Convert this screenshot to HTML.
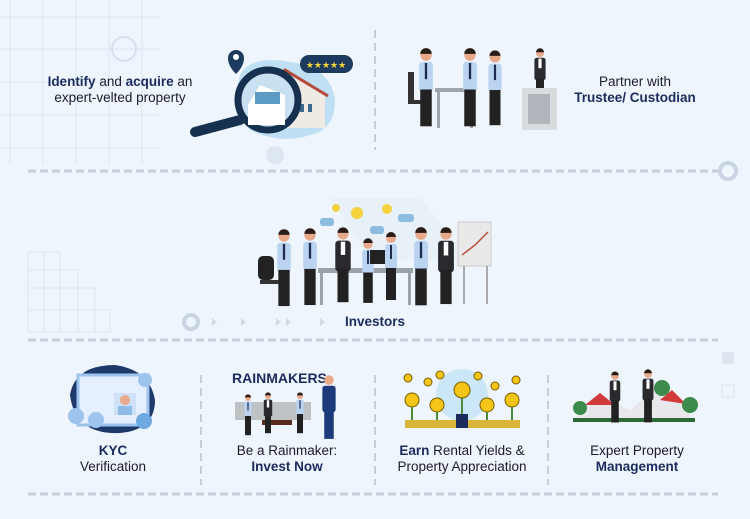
<!DOCTYPE html>
<html><head><meta charset="utf-8"><style>
body{margin:0;width:750px;height:519px;background:#eef5fc;overflow:hidden;position:relative;font-family:"Liberation Sans",sans-serif;color:#1b1b2a}
.t{position:absolute;text-align:center;font-size:13.5px;line-height:16px;white-space:nowrap}
b{color:#1c2b5e}
svg{position:absolute;left:0;top:0}
</style></head><body>
<svg width="750" height="519" viewBox="0 0 750 519">
<defs>
<g id="p"><rect x="-6" y="6" width="12" height="26" rx="3" fill="#b9d3f0"/><rect x="-1" y="7" width="2" height="14" fill="#1d2b4f"/><rect x="-5" y="30" width="10" height="32" fill="#222"/><circle cx="0" cy="0" r="5" fill="#e7a98a"/><path d="M-5 -1 A5 5 0 0 1 5 -1 Z" fill="#2a1d18"/></g>
<g id="s"><rect x="-7" y="6" width="14" height="28" rx="3" fill="#2a2a2e"/><rect x="-2" y="7" width="4" height="12" fill="#fff"/><rect x="-5" y="32" width="10" height="30" fill="#222"/><circle cx="0" cy="0" r="5" fill="#e7a98a"/><path d="M-5 -1 A5 5 0 0 1 5 -1 Z" fill="#2a1d18"/></g>
</defs>
<!-- grid top-left -->
<g stroke="#dbe6f1" stroke-width="1" fill="none">
<path d="M0 17H160M0 49H160M0 82H160M0 115H160M0 148H160M10 0V165M43 0V165M76 0V165M109 0V165M142 0V165"/>
<path d="M28 252H60V270H78V288H95V310H110V332H28Z"/>
<path d="M28 270H78M28 288H95M28 310H110M44 252V332M60 252V332M78 270V332M95 288V332"/>
</g>
<circle cx="124" cy="49" r="12" fill="none" stroke="#d5e1ee" stroke-width="2"/>
<circle cx="275" cy="155" r="9" fill="#dde7f1"/>
<circle cx="191" cy="322" r="7" fill="none" stroke="#c9d5e2" stroke-width="4"/>
<circle cx="728" cy="171" r="8" fill="none" stroke="#c9d5e2" stroke-width="4"/>
<rect x="722" y="352" width="12" height="12" fill="#dde5ee"/>
<rect x="722" y="385" width="12" height="12" fill="none" stroke="#dde5ee"/>
<!-- dashed lines -->
<g stroke="#c6d0db" stroke-width="3" stroke-dasharray="8 4">
<path d="M28 171H718M28 340H718M28 494H718"/>
</g>
<g stroke="#c6d0db" stroke-width="2" stroke-dasharray="8 5">
<path d="M375 30V150M201 375V485M375 375V485M548 375V485"/>
</g>
<!-- property illustration -->
<path d="M240 75 Q250 55 290 62 Q330 66 335 100 Q335 130 310 135 Q280 145 250 130 Q230 110 240 75Z" fill="#bfe0f4"/>
<path d="M228 58 a8 8 0 1 1 16 0 q0 8 -8 16 q-8 -8 -8 -16z" fill="#1d3a5f"/><circle cx="236" cy="57" r="3" fill="#fff"/>
<rect x="300" y="55" width="53" height="18" rx="9" fill="#1d3a5f"/><text x="326" y="68" font-size="9" fill="#f6d33b" text-anchor="middle">★★★★★</text>
<path d="M265 90 L285 72 L325 95 L325 128 L265 128Z" fill="#efeae4"/><path d="M262 92 L285 70 L328 96" stroke="#b44a3a" stroke-width="3" fill="none"/>
<rect x="300" y="104" width="4" height="8" fill="#3b6a8f"/><rect x="308" y="104" width="4" height="8" fill="#3b6a8f"/>
<circle cx="268" cy="100" r="30" fill="#c8e0f0" stroke="#16304f" stroke-width="7"/>
<path d="M248 105 L260 85 L285 95 L285 125 L248 125Z" fill="#fff"/><rect x="255" y="92" width="25" height="12" fill="#5a9ac3"/>
<path d="M240 120 L195 132" stroke="#16304f" stroke-width="10" stroke-linecap="round"/>
<!-- partner illustration -->
<g transform="translate(0,0)">
<rect x="435" y="88" width="40" height="4" fill="#9ea6ad"/><rect x="437" y="92" width="3" height="36" fill="#9ea6ad"/><rect x="470" y="92" width="3" height="36" fill="#9ea6ad"/>
<rect x="408" y="72" width="6" height="30" fill="#333"/><rect x="408" y="100" width="14" height="4" fill="#333"/>
<use href="#p" transform="translate(426,55) scale(1.15)"/>
<use href="#p" transform="translate(470,55) scale(1.15)"/>
<use href="#p" transform="translate(495,57) scale(1.1)"/>
<use href="#s" transform="translate(540,53) scale(0.8)"/>
<rect x="522" y="88" width="35" height="42" fill="#d8dcdf"/><rect x="528" y="94" width="22" height="30" fill="#b0b6bb"/>
</g>
<!-- investors -->
<g>
<path d="M330 198 L420 198 L470 260 L370 260Z" fill="#e4ecf5" opacity=".6"/>
<circle cx="336" cy="208" r="4" fill="#f5d23d"/><circle cx="357" cy="213" r="6" fill="#f5d23d"/><circle cx="387" cy="209" r="5" fill="#f5d23d"/>
<rect x="320" y="218" width="14" height="8" rx="3" fill="#8cbde0"/><rect x="370" y="226" width="14" height="8" rx="3" fill="#8cbde0"/><rect x="398" y="214" width="16" height="8" rx="3" fill="#8cbde0"/>
<rect x="458" y="222" width="33" height="44" fill="#e9e9e9" stroke="#ccc"/><path d="M462 255 L475 245 L488 232" stroke="#b5533e" stroke-width="1.5" fill="none"/>
<rect x="463" y="266" width="2" height="38" fill="#aaa"/><rect x="486" y="266" width="2" height="38" fill="#aaa"/>
<rect x="258" y="256" width="16" height="24" rx="5" fill="#222"/><rect x="260" y="280" width="22" height="4" fill="#333"/>
<rect x="318" y="268" width="95" height="5" fill="#9ba3aa"/><rect x="320" y="273" width="3" height="32" fill="#9ba3aa"/><rect x="408" y="273" width="3" height="32" fill="#9ba3aa"/>
<use href="#p" transform="translate(284,236) scale(1.13)"/>
<use href="#p" transform="translate(310,235) scale(1.13)"/>
<use href="#s" transform="translate(343,234) scale(1.1)"/>
<use href="#p" transform="translate(368,244) scale(0.95)"/>
<rect x="370" y="250" width="22" height="14" fill="#222"/>
<use href="#p" transform="translate(391,238) scale(1.0)"/>
<use href="#p" transform="translate(421,234) scale(1.15)"/>
<use href="#s" transform="translate(446,234) scale(1.13)"/>
</g>
<g fill="#d2dbe5"><path d="M212 318l5 4-5 4zM241 318l5 4-5 4zM276 318l5 4-5 4zM286 318l5 4-5 4zM320 318l5 4-5 4z"/></g>
<!-- KYC -->
<path d="M70 395 Q75 365 115 365 Q150 370 155 400 Q155 430 120 433 Q75 435 70 395Z" fill="#1e3a6b"/>
<rect x="78" y="375" width="70" height="50" fill="#e5efff" stroke="#9cc4ec" stroke-width="3"/>
<rect x="114" y="393" width="22" height="22" fill="#cfe1f6"/><circle cx="125" cy="400" r="5" fill="#e7a98a"/><rect x="118" y="406" width="14" height="9" fill="#8fbce6"/>
<circle cx="145" cy="380" r="7" fill="#9cc4ec"/><circle cx="76" cy="416" r="8" fill="#9cc4ec"/><circle cx="96" cy="420" r="8" fill="#9cc4ec"/><circle cx="144" cy="421" r="8" fill="#6ea9e2"/>
<!-- rainmakers -->
<text x="232" y="383" font-family="Liberation Sans" font-weight="bold" font-size="14" fill="#1c2b5e">RAINMAKERS</text>
<rect x="235" y="402" width="76" height="18" fill="#bfc2c5"/><rect x="262" y="420" width="30" height="5" fill="#5a2b1d"/>
<use href="#p" transform="translate(248,398) scale(0.6)"/><use href="#s" transform="translate(268,396) scale(0.6)"/><use href="#p" transform="translate(300,396) scale(0.6)"/>
<g transform="translate(329,380) scale(0.95)"><rect x="-7" y="6" width="14" height="28" rx="3" fill="#1d3a7a"/><rect x="-5" y="32" width="10" height="30" fill="#1d3a7a"/><circle cx="0" cy="0" r="5" fill="#e7a98a"/></g>
<!-- earn -->
<circle cx="462" cy="395" r="26" fill="#cbe7f7"/>
<g fill="#f5c518" stroke="#7a5a00" stroke-width="1">
<circle cx="412" cy="400" r="7"/><circle cx="437" cy="405" r="7"/><circle cx="462" cy="390" r="8"/><circle cx="487" cy="405" r="7"/><circle cx="512" cy="400" r="7"/>
<circle cx="408" cy="378" r="4"/><circle cx="428" cy="382" r="4"/><circle cx="440" cy="375" r="4"/><circle cx="478" cy="376" r="4"/><circle cx="495" cy="386" r="4"/><circle cx="516" cy="380" r="4"/>
</g>
<g stroke="#4a8a3a" stroke-width="2"><path d="M412 407V425M437 412V425M462 398V425M487 412V425M512 407V425"/></g>
<rect x="405" y="420" width="115" height="8" fill="#d8b43a"/><rect x="456" y="414" width="12" height="14" fill="#1c2b5e"/>
<!-- management -->
<path d="M575 418 L600 395 L630 410 L660 385 L690 410 L690 420 L575 420Z" fill="#e8e8ec"/>
<path d="M585 405 L600 393 L615 405Z" fill="#d23a3a"/><path d="M660 400 L672 390 L686 404Z" fill="#d23a3a"/>
<circle cx="580" cy="408" r="7" fill="#3d8b4a"/><circle cx="690" cy="405" r="8" fill="#3d8b4a"/><circle cx="662" cy="388" r="8" fill="#3d8b4a"/>
<rect x="573" y="418" width="122" height="4" fill="#2d6a38"/>
<use href="#s" transform="translate(615,376) scale(0.75)"/><use href="#s" transform="translate(648,374) scale(0.78)"/>
</svg>
<div class="t" style="left:30px;top:74px;width:180px"><b>Identify</b> and <b>acquire</b> an<br>expert-velted property</div>
<div class="t" style="left:560px;top:74px;width:150px">Partner with<br><b>Trustee/ Custodian</b></div>
<div class="t" style="left:325px;top:314px;width:100px"><b>Investors</b></div>
<div class="t" style="left:53px;top:443px;width:120px"><b>KYC</b><br>Verification</div>
<div class="t" style="left:227px;top:443px;width:120px">Be a Rainmaker:<br><b>Invest Now</b></div>
<div class="t" style="left:382px;top:443px;width:160px"><b>Earn</b> Rental Yields &amp;<br>Property Appreciation</div>
<div class="t" style="left:577px;top:443px;width:120px">Expert Property<br><b>Management</b></div>
</body></html>
